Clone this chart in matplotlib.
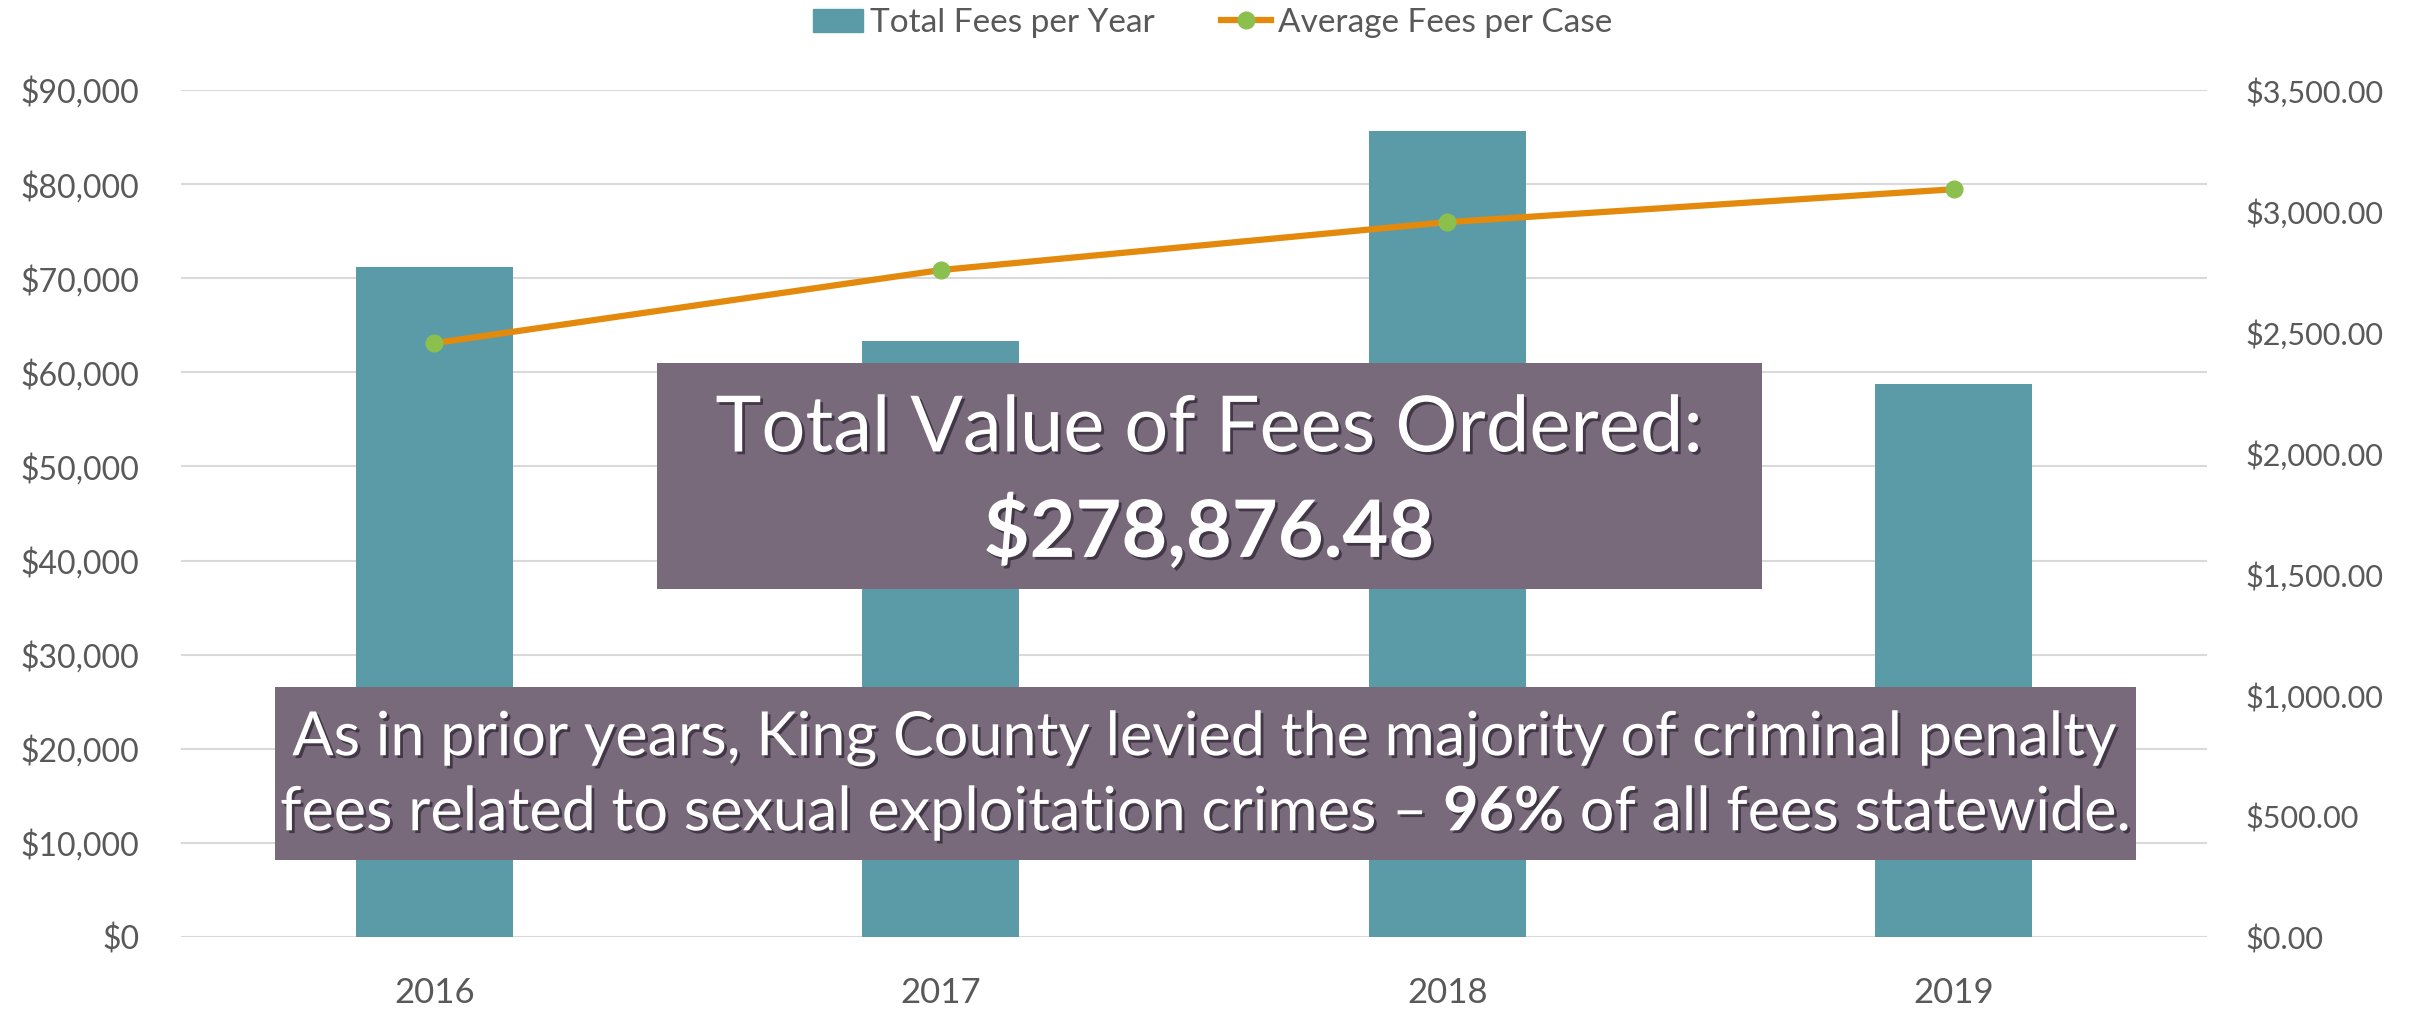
import matplotlib
matplotlib.use("Agg")
import matplotlib.pyplot as plt
import matplotlib.patheffects as pe
from matplotlib.patches import Rectangle
from matplotlib.lines import Line2D
from matplotlib.ticker import FuncFormatter, MultipleLocator
import numpy as np

years = ["2016", "2017", "2018", "2019"]
total_fees = [71180, 63380, 85600, 58716.48]
avg_fees = [2454, 2756, 2954, 3090]

bar_color = "#5B9BA7"
line_color = "#E38A0C"
marker_color = "#8BC04E"
box_color = "#796A7B"
text_gray = "#595959"
grid_gray = "#D9D9D9"

plt.rcParams["font.family"] = ["Lato", "DejaVu Sans"]
plt.rcParams["mathtext.fontset"] = "custom"
plt.rcParams["mathtext.rm"] = "Lato"
plt.rcParams["mathtext.bf"] = "Lato:bold"

W, H = 2425, 1013
fig = plt.figure(figsize=(W / 100, H / 100), dpi=100)
ax = fig.add_axes([181 / W, 1 - 937 / H, (2207 - 181) / W, (937 - 90) / H])

x = np.arange(len(years))
ax.bar(x, total_fees, width=0.31, color=bar_color, zorder=2)
ax.set_xlim(-0.5, len(years) - 0.5)
ax.set_ylim(0, 90000)
ax.yaxis.set_major_locator(MultipleLocator(10000))
ax.yaxis.set_major_formatter(FuncFormatter(lambda v, p: "${:,.0f}".format(v)))
ax.set_xticks(x)
ax.set_xticklabels(years)
ax.grid(axis="y", color=grid_gray, linewidth=1.5, zorder=0)
ax.set_axisbelow(True)
for s in ax.spines.values():
    s.set_visible(False)
ax.tick_params(axis="y", length=0, pad=30, labelsize=23, labelcolor=text_gray)
ax.tick_params(axis="x", length=0, pad=29, labelsize=25, labelcolor=text_gray)

ax2 = ax.twinx()
ax2.plot(x, avg_fees, color=line_color, linewidth=4.5, marker="o",
         markersize=12, markerfacecolor=marker_color, markeredgecolor=marker_color,
         zorder=3)
ax2.set_ylim(0, 3500)
ax2.yaxis.set_major_locator(MultipleLocator(500))
ax2.yaxis.set_major_formatter(FuncFormatter(lambda v, p: "${:,.2f}".format(v)))
for s in ax2.spines.values():
    s.set_visible(False)
ax2.tick_params(axis="y", length=0, pad=28, labelsize=22, labelcolor=text_gray)

# legend across the top
handles = [
    Rectangle((0, 0), 1, 1, color=bar_color),
    Line2D([0], [0], color=line_color, linewidth=4.5, marker="o", markersize=12,
           markerfacecolor=marker_color, markeredgecolor=marker_color),
]
fig.legend(handles, ["Total Fees per Year", "Average Fees per Case"],
           loc="center", bbox_to_anchor=(0.5, 1 - 23 / H), ncol=2, frameon=False,
           fontsize=24, labelcolor=text_gray, handlelength=1.5, handletextpad=0.2,
           columnspacing=2.0)

shadow = [pe.SimplePatchShadow(offset=(2, -2), shadow_rgbFace="#2b2230", alpha=0.7),
          pe.Normal()]


def fig_box(x0, y0, x1, y1):
    fig.patches.append(Rectangle((x0 / W, 1 - y1 / H), (x1 - x0) / W, (y1 - y0) / H,
                                 transform=fig.transFigure, facecolor=box_color,
                                 edgecolor="none", zorder=5))


# total value callout
fig_box(657, 363, 1762, 589)
fig.text(1209 / W, 1 - 430 / H, "Total Value of Fees Ordered:", ha="center",
         va="center", fontsize=56, color="white", zorder=6, path_effects=shadow)
fig.text(1209 / W, 1 - 533 / H, "$278,876.48", ha="center", va="center",
         fontsize=57, fontweight="bold", color="white", zorder=6, path_effects=shadow)

# King County note
fig_box(275, 687, 2136, 860)
fig.text(1205 / W, 1 - 738 / H,
         "As in prior years, King County levied the majority of criminal penalty",
         ha="center", va="center", fontsize=44, color="white", zorder=6,
         path_effects=shadow)
fig.text(1205 / W, 1 - 813 / H,
         r"fees related to sexual exploitation crimes – $\mathbf{96\%}$ of all fees statewide.",
         ha="center", va="center", fontsize=44, color="white", zorder=6,
         path_effects=shadow)

fig.savefig("out.png", dpi=100)
